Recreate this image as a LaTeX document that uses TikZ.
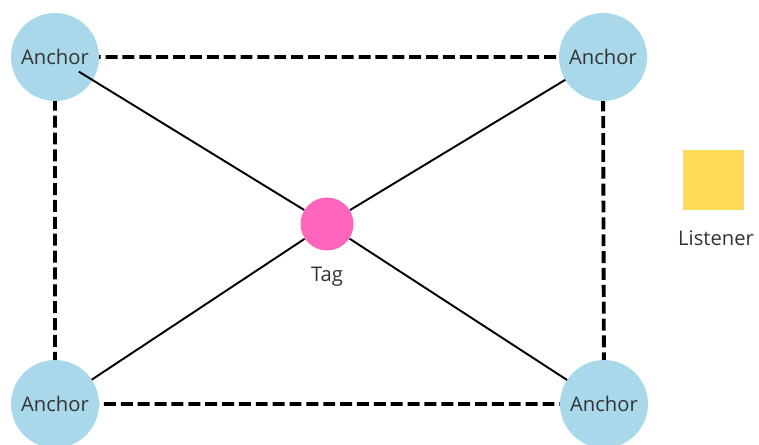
\documentclass[tikz,border=0pt]{standalone}
\usepackage{fontspec}
\setmainfont{Open Sans}
\usetikzlibrary{calc}

\definecolor{anchorblue}{HTML}{A8D8EA}
\definecolor{tagpink}{HTML}{FF66BB}
\definecolor{listenyellow}{HTML}{FFDB58}
\definecolor{labelgray}{HTML}{333333}

\tikzset{
  anchornode/.style={circle, fill=anchorblue, minimum size=1.76cm, inner sep=0, text=labelgray, font=\fontsize{11.5}{13}\selectfont},
  tagnode/.style={circle, fill=tagpink, minimum size=1.06cm, inner sep=0},
  listenernode/.style={rectangle, fill=listenyellow, minimum size=1.22cm, inner sep=0},
  caption/.style={text=labelgray, font=\fontsize{11.5}{13}\selectfont},
  border/.style={black, line width=2.2pt, dash pattern=on 6.8pt off 2.8pt},
  wire/.style={black, line width=1.1pt}
}

\begin{document}
\begin{tikzpicture}[x=0.02cm, y=-0.02cm]
\useasboundingbox (0,0) rectangle (759,445);

\coordinate (TL) at (55,57);
\coordinate (TR) at (603,57);
\coordinate (BL) at (55,404);
\coordinate (BR) at (604,404);

% dashed frame between anchors
\draw[border] (TL) -- (TR) -- (BR) -- (BL) -- cycle;

\node[tagnode] (tag) at (327,224) {};
\node[caption] (taglabel) at (327,277) {Tag};

\draw[wire] (tag) -- (TR);
\draw[wire] (tag) -- (BL);
\draw[wire] (tag) -- (BR);

\foreach \c/\n in {TL/tl, TR/tr, BL/bl, BR/br} {
  \node[anchornode] (\n) at (\c) {Anchor}; }

\draw[wire, shorten >=0.56cm] (tag) -- (tl.center);

\node[listenernode] (listener) at (713,180) {};
\node[caption] (listenerlabel) at (716,238) {Listener};

\end{tikzpicture}
\end{document}
